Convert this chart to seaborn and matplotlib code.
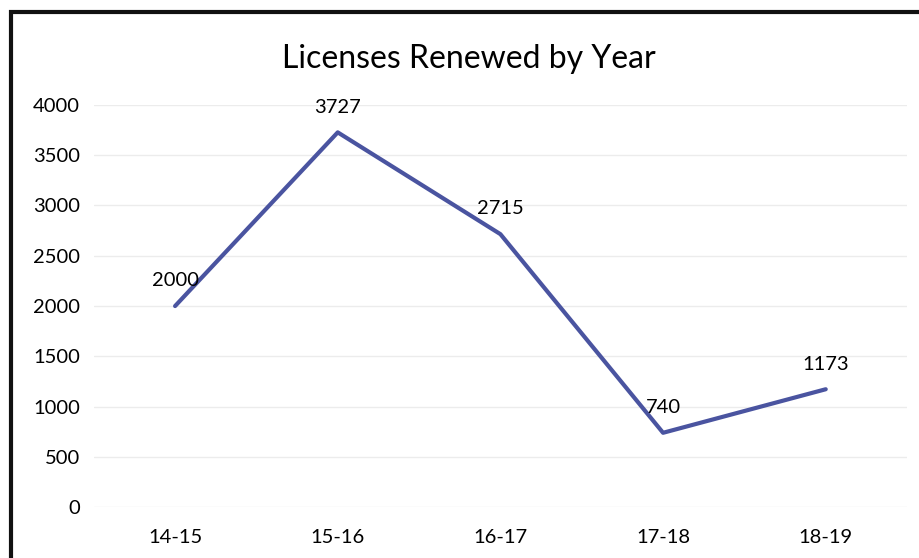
import matplotlib.pyplot as plt
import seaborn as sns
import pandas as pd
from matplotlib.patches import Rectangle

# Data
years = ['14-15', '15-16', '16-17', '17-18', '18-19']
renewed = [2000, 3727, 2715, 740, 1173]

df = pd.DataFrame({'Year': years, 'Renewed': renewed})

sns.set_theme(style='white')
plt.rcParams['font.family'] = ['Lato', 'DejaVu Sans']

fig = plt.figure(figsize=(9.19, 5.58), dpi=100)
ax = fig.add_axes([0.102, 0.091, 0.885, 0.721])

sns.lineplot(data=df, x='Year', y='Renewed', ax=ax, color='#4a54a0',
             linewidth=3.0, sort=False)

# data labels above each point
for i, v in enumerate(renewed):
    ax.annotate(str(v), (i, v), xytext=(0, 12), textcoords='offset points',
                ha='center', va='bottom', fontsize=14.5, color='#000000')

ax.set_ylim(0, 4000)
ax.set_xlim(-0.5, len(years) - 0.5)
ax.set_yticks(range(0, 4001, 500))
ax.grid(axis='y', color='#ececec', linewidth=1.0)
ax.set_axisbelow(True)
ax.tick_params(axis='both', length=0, labelsize=14.5, colors='#000000')
ax.tick_params(axis='x', pad=16)
ax.tick_params(axis='y', pad=10)
ax.set_xlabel('')
ax.set_ylabel('')
for s in ax.spines.values():
    s.set_visible(False)

fig.suptitle('Licenses Renewed by Year', x=0.51, y=0.922, fontsize=23,
             color='#000000')

# scanned frame around the chart (cropped on right and bottom)
fig.patches.append(Rectangle((0.012, -0.05), 1.1, 1.028, transform=fig.transFigure,
                             fill=False, edgecolor='#111111', linewidth=3))

fig.savefig('out.png', dpi=100)
